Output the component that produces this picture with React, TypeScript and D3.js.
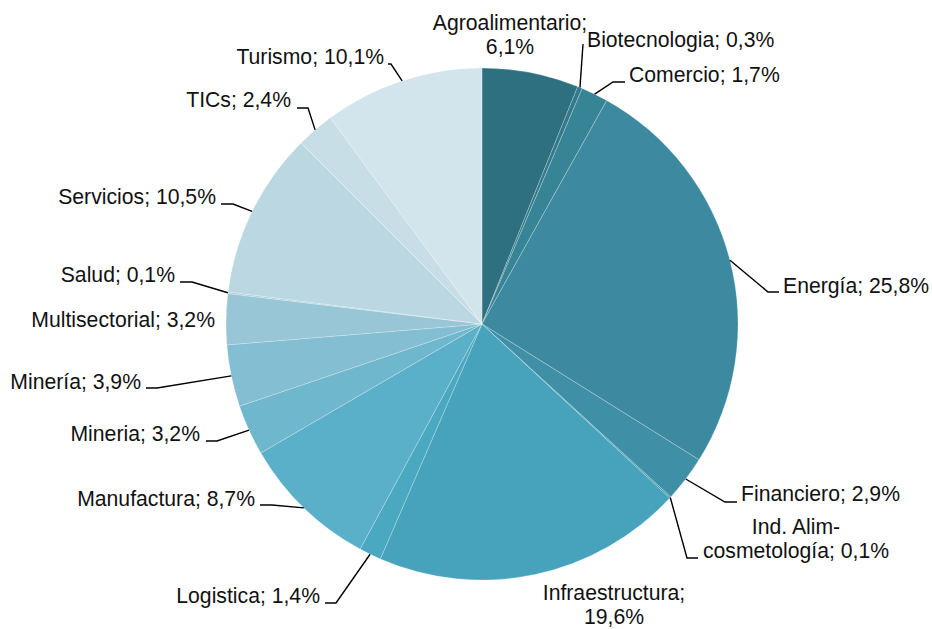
import React, { useEffect, useRef } from "react";
import * as d3 from "d3";

const categories = [
  "Agroalimentario", "Biotecnologia", "Comercio", "Energía", "Financiero",
  "Ind. Alim-cosmetología", "Infraestructura", "Logistica", "Manufactura",
  "Mineria", "Minería", "Multisectorial", "Salud", "Servicios", "TICs", "Turismo",
];
const values = [6.1, 0.3, 1.7, 25.8, 2.9, 0.1, 19.6, 1.4, 8.7, 3.2, 3.9, 3.2, 0.1, 10.5, 2.4, 10.1];
const labelLines = [
  ["Agroalimentario;", "6,1%"],
  ["Biotecnologia; 0,3%"],
  ["Comercio; 1,7%"],
  ["Energía; 25,8%"],
  ["Financiero; 2,9%"],
  ["Ind. Alim-", "cosmetología; 0,1%"],
  ["Infraestructura;", "19,6%"],
  ["Logistica; 1,4%"],
  ["Manufactura; 8,7%"],
  ["Mineria; 3,2%"],
  ["Minería; 3,9%"],
  ["Multisectorial; 3,2%"],
  ["Salud; 0,1%"],
  ["Servicios; 10,5%"],
  ["TICs; 2,4%"],
  ["Turismo; 10,1%"],
];
const colors = [
  "#2e6f80", "#327a8b", "#378496", "#3d8aa0", "#3f90a6", "#4398ae",
  "#47a3bc", "#4aa8c1", "#5bb0c9", "#6eb7cd", "#83bed2", "#98c6d6",
  "#a8cedb", "#bad7e2", "#c7dee7", "#d2e4ec",
];

// label layout: text anchor point (x, first line center y), anchor, leader elbow (x,y), leader end x
type Lay = { x: number; y: number; anchor: string; elbow?: [number, number]; endX?: number };
const layout: Lay[] = [
  { x: 510, y: 23, anchor: "middle" },
  { x: 587, y: 40, anchor: "start", elbow: [583, 44], endX: 583 },
  { x: 629, y: 75, anchor: "start", elbow: [613, 82], endX: 625 },
  { x: 783, y: 286, anchor: "start", elbow: [768, 292], endX: 779 },
  { x: 741, y: 494, anchor: "start", elbow: [725, 502], endX: 737 },
  { x: 796, y: 527, anchor: "middle", elbow: [687, 558], endX: 698 },
  { x: 614, y: 593, anchor: "middle" },
  { x: 320, y: 596, anchor: "end", elbow: [336, 603], endX: 325 },
  { x: 255, y: 499, anchor: "end", elbow: [272, 505], endX: 260 },
  { x: 200, y: 434, anchor: "end", elbow: [217, 441], endX: 206 },
  { x: 141, y: 382, anchor: "end", elbow: [157, 388], endX: 146 },
  { x: 215, y: 320, anchor: "end" },
  { x: 175, y: 275, anchor: "end", elbow: [192, 282], endX: 180 },
  { x: 216, y: 197, anchor: "end", elbow: [233, 204], endX: 221 },
  { x: 291, y: 100, anchor: "end", elbow: [308, 108], endX: 297 },
  { x: 384, y: 57, anchor: "end", elbow: [391, 64], endX: 388 },
];

const W = 932;
const H = 629;
const CX = 482;
const CY = 324;
const R = 256;

export default function App() {
  const ref = useRef<SVGSVGElement | null>(null);
  useEffect(() => {
    const svg = d3.select(ref.current);
    svg.selectAll("*").remove();
    const data = categories.map((c, i) => ({ c, v: values[i], i }));
    const pie = d3.pie<any>().value((d: any) => d.v).sort(null);
    const arcs = pie(data);
    const arc = d3.arc<any>().innerRadius(0).outerRadius(R);
    const g = svg.append("g").attr("transform", `translate(${CX},${CY})`);
    g.selectAll("path")
      .data(arcs)
      .enter()
      .append("path")
      .attr("d", arc as any)
      .attr("fill", (d: any) => colors[d.data.i])
      .attr("stroke", "rgba(255,255,255,0.4)")
      .attr("stroke-width", 0.6);

    // leaders
    arcs.forEach((a: any, i: number) => {
      const L = layout[i];
      if (!L.elbow) return;
      const mid = (a.startAngle + a.endAngle) / 2;
      const sx = CX + R * Math.sin(mid);
      const sy = CY - R * Math.cos(mid);
      const pts: [number, number][] = [[sx, sy], L.elbow, [L.endX as number, L.elbow[1]]];
      svg.append("path")
        .attr("d", d3.line()(pts) as string)
        .attr("fill", "none")
        .attr("stroke", "#000")
        .attr("stroke-width", 1.4);
    });

    // labels
    categories.forEach((c, i) => {
      const L = layout[i];
      const t = svg.append("text")
        .attr("x", L.x)
        .attr("y", L.y)
        .attr("text-anchor", L.anchor)
        .attr("font-family", "'Liberation Sans', Arial, sans-serif")
        .attr("font-size", 21.2)
        .attr("fill", "#111");
      labelLines[i].forEach((ln, k) => {
        t.append("tspan")
          .attr("x", L.x)
          .attr("y", L.y + k * 23.5)
          .attr("dy", "0.35em")
          .text(ln);
      });
    });
  }, []);
  return (
    <svg
      ref={ref}
      width={W}
      height={H}
      style={{ position: "absolute", left: 0, top: 0, background: "#fff" }}
    />
  );
}
